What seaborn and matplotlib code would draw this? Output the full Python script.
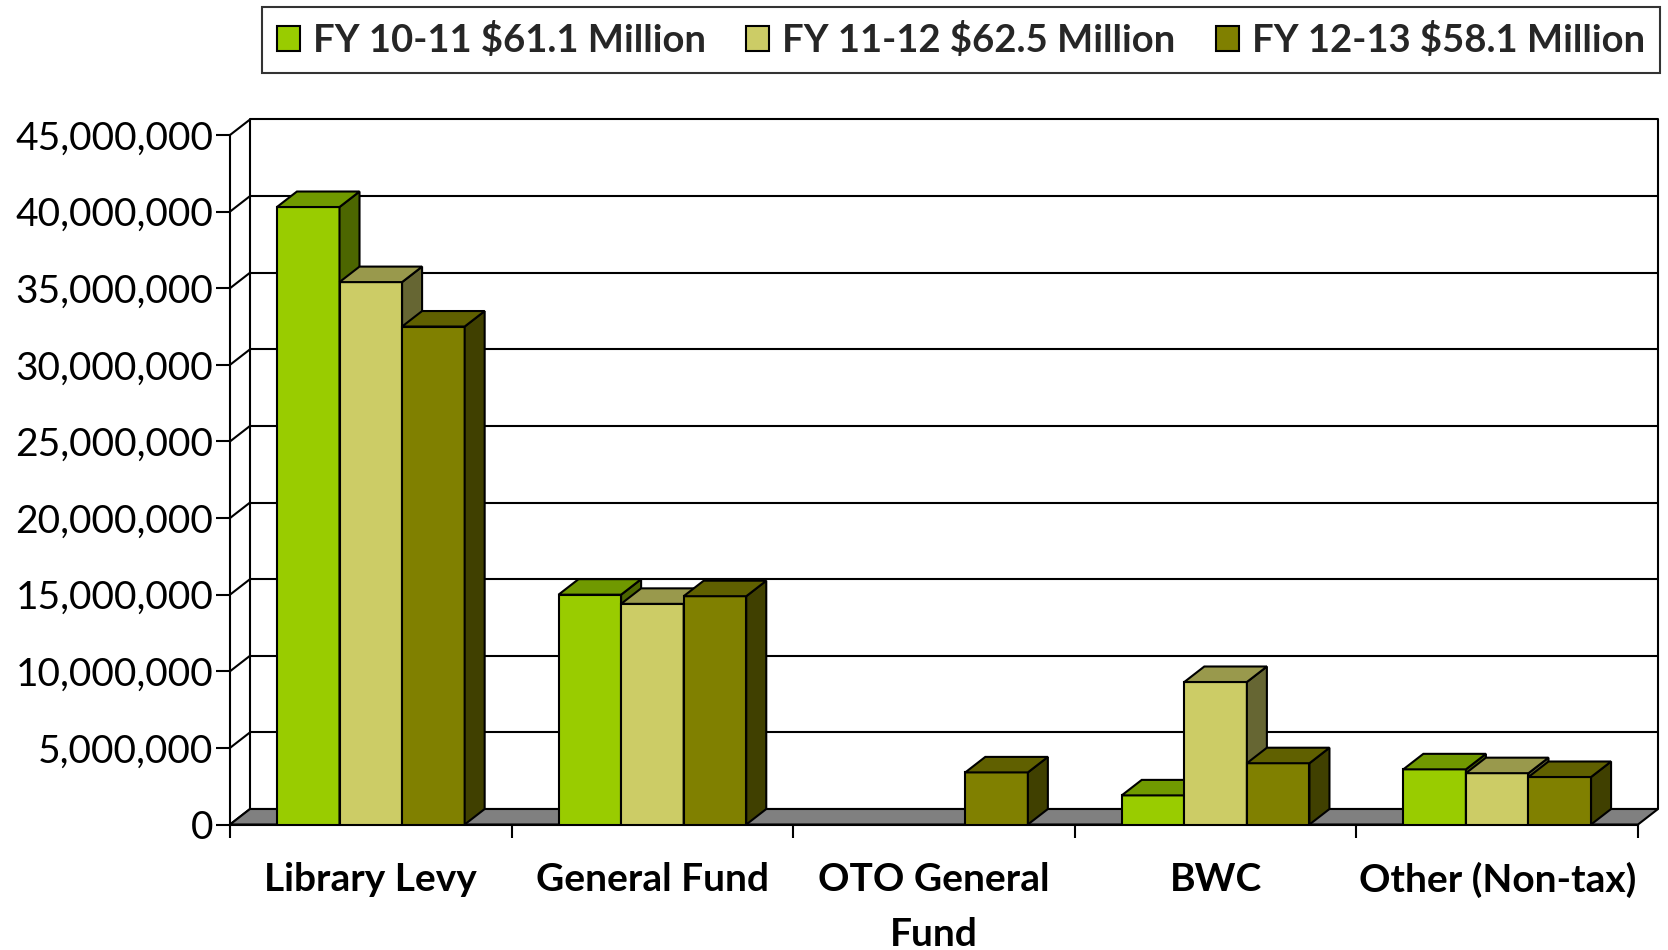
import numpy as np
import pandas as pd
import matplotlib
matplotlib.use("Agg")
import matplotlib.pyplot as plt
import matplotlib.colors as mcolors
import seaborn as sns
from matplotlib.patches import Polygon, Patch
from matplotlib.ticker import FuncFormatter, FixedLocator

# ---------------- data ----------------
categories = ["Library Levy", "General Fund", "OTO General\nFund", "BWC", "Other (Non-tax)"]
series_names = ["FY 10-11 $61.1 Million", "FY 11-12 $62.5 Million", "FY 12-13 $58.1 Million"]
fy1011 = [40_300_000, 15_000_000, 0, 1_900_000, 3_600_000]
fy1112 = [35_400_000, 14_400_000, 0, 9_300_000, 3_350_000]
fy1213 = [32_500_000, 14_900_000, 3_400_000, 4_000_000, 3_100_000]
y_ticks = list(range(0, 45_000_001, 5_000_000))

front_colors = ["#99CC00", "#CCCC66", "#808000"]
top_colors = ["#709900", "#99994C", "#606000"]
side_colors = ["#4C6600", "#666633", "#404000"]

# ---------------- style ----------------
sns.set_theme(style="white")
plt.rcParams["font.family"] = ["Lato", "DejaVu Sans"]

W, H, DPI = 1668, 950, 100
fig = plt.figure(figsize=(W / DPI, H / DPI), dpi=DPI)
fig.patch.set_facecolor("white")
ax_l, ax_r, ax_b, ax_t = 230, 1638, 824.5, 135
ax = fig.add_axes([ax_l / W, 1 - ax_b / H, (ax_r - ax_l) / W, (ax_b - ax_t) / H])
ax.set_facecolor("none")

df = pd.DataFrame({
    "Category": categories * 3,
    "Series": [s for s in series_names for _ in categories],
    "Value": fy1011 + fy1112 + fy1213,
})

sns.barplot(data=df, x="Category", y="Value", hue="Series", order=categories,
            hue_order=series_names, palette=front_colors, width=2 / 3, gap=0,
            edgecolor="black", linewidth=1.5, saturation=1, errorbar=None, ax=ax)
if ax.get_legend() is not None:
    ax.get_legend().remove()

n_cat = len(categories)
ax.set_xlim(-0.5, n_cat - 0.5)
ax.set_ylim(y_ticks[0], y_ticks[-1])

# depth of the pseudo-3D effect (pixels -> data units)
DX_PX, DY_PX = 20, 15.5
ddx = DX_PX / ((ax_r - ax_l) / n_cat)
ddy = DY_PX / ((ax_b - ax_t) / (y_ticks[-1] - y_ticks[0]))
x0a, x1a = -0.5, n_cat - 0.5
ymax = y_ticks[-1]

# back wall gridlines, wall edges, diagonals
for t in y_ticks:
    ax.plot([x0a + ddx, x1a + ddx], [t + ddy, t + ddy], color="black", lw=1.5,
            zorder=1, clip_on=False, solid_capstyle="butt")
    ax.plot([x0a, x0a + ddx], [t, t + ddy], color="black", lw=1.5, zorder=1,
            clip_on=False)
ax.plot([x0a + ddx, x0a + ddx], [ddy, ymax + ddy], color="black", lw=1.5, zorder=1, clip_on=False)
ax.plot([x1a + ddx, x1a + ddx], [ddy, ymax + ddy], color="black", lw=1.5, zorder=1, clip_on=False)

# floor
floor = Polygon([(x0a, 0), (x1a, 0), (x1a + ddx, ddy), (x0a + ddx, ddy)], closed=True,
                facecolor="#808080", edgecolor="black", lw=1.5, zorder=1.5, clip_on=False)
ax.add_patch(floor)

# bar faces
hex_front = [mcolors.to_hex(c).lower() for c in front_colors]
bars = [p for p in ax.patches if p is not floor]
bars = sorted(bars, key=lambda p: p.get_x())
for rank, p in enumerate(bars):
    z = 3 + rank * 0.01
    h = p.get_height()
    x0 = p.get_x()
    x1 = x0 + p.get_width()
    if h <= 0:
        p.set_visible(False)
        continue
    fc = mcolors.to_hex(p.get_facecolor()).lower()
    k = hex_front.index(fc) if fc in hex_front else 0
    p.set_zorder(z)
    top = Polygon([(x0, h), (x1, h), (x1 + ddx, h + ddy), (x0 + ddx, h + ddy)], closed=True,
                  facecolor=top_colors[k], edgecolor="black", lw=1.5, zorder=z,
                  clip_on=False, joinstyle="miter")
    side = Polygon([(x1, 0), (x1 + ddx, ddy), (x1 + ddx, h + ddy), (x1, h)], closed=True,
                   facecolor=side_colors[k], edgecolor="black", lw=1.5, zorder=z,
                   clip_on=False, joinstyle="miter")
    ax.add_patch(side)
    ax.add_patch(top)

# spines / axes
for s in ["top", "right"]:
    ax.spines[s].set_visible(False)
for s in ["left", "bottom"]:
    ax.spines[s].set_visible(True)
    ax.spines[s].set_color("black")
    ax.spines[s].set_linewidth(1.5)
    ax.spines[s].set_zorder(2)

ax.yaxis.set_major_locator(FixedLocator(y_ticks))
ax.yaxis.set_major_formatter(FuncFormatter(lambda v, pos: f"{int(round(v)):,}"))
ax.tick_params(axis="y", left=True, length=10, width=1.5, color="black",
               labelsize=28, pad=2, labelcolor="black")

ax.set_xticks(range(n_cat))
ax.set_xticklabels(categories)
ax.set_xticks(np.arange(-0.5, n_cat, 1.0), minor=True)
ax.tick_params(axis="x", which="major", bottom=False, length=0, pad=27,
               labelsize=28, labelcolor="black")
ax.tick_params(axis="x", which="minor", bottom=True, length=9, width=1.5,
               color="black", direction="out")
for lab in ax.get_xticklabels():
    lab.set_fontweight("bold")
    lab.set_linespacing(1.7)

ax.set_xlabel("")
ax.set_ylabel("")
ax.grid(False)

# legend
handles = [Patch(facecolor=c, edgecolor="black", linewidth=1.5) for c in front_colors]
leg = fig.legend(handles, series_names, loc="center",
                 bbox_to_anchor=(961 / W, 1 - 40 / H), bbox_transform=fig.transFigure,
                 ncol=3, frameon=True, fancybox=False, edgecolor="black",
                 prop=dict(weight="bold", size=27.5), handlelength=0.6, handleheight=0.65,
                 handletextpad=0.35, columnspacing=1.05, borderpad=0.4, borderaxespad=0)
leg.get_frame().set_linewidth(1.5)
leg.get_frame().set_facecolor("white")

fig.savefig("out.png", dpi=DPI, facecolor="white")
